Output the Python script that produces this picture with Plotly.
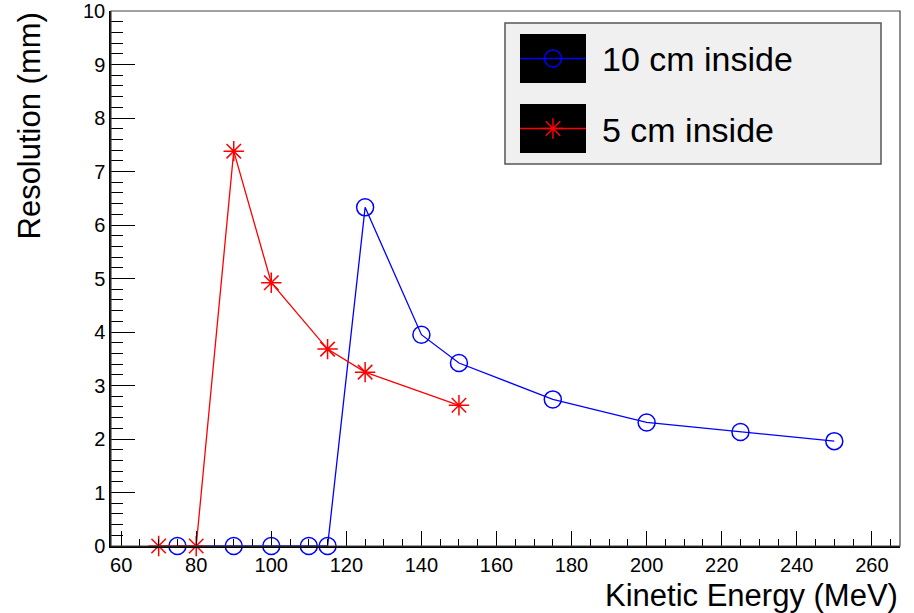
import plotly.graph_objects as go

# ---- data ----
energy_10cm = [75, 90, 100, 110, 115, 125, 140, 150, 175, 200, 225, 250]
res_10cm = [0, 0, 0, 0, 0, 6.33, 3.95, 3.42, 2.74, 2.31, 2.13, 1.96]
energy_5cm = [70, 80, 90, 100, 115, 125, 150]
res_5cm = [0, 0, 7.38, 4.92, 3.68, 3.25, 2.63]
series_names = ["10 cm inside", "5 cm inside"]
x_title = "Kinetic Energy (MeV)"
y_title = "Resolution (mm)"

W, H = 914, 613
L, R, T, B = 111, 14, 11, 67
PW, PH = W - L - R, H - T - B
FONT = "Liberation Sans, Arial, Helvetica, sans-serif"

def px(xp):
    return (xp - L) / PW

def py(yp):
    return (H - B - yp) / PH

BLUE = "#0000ff"
RED = "#ff0000"

fig = go.Figure()
fig.add_trace(go.Scatter(
    x=energy_10cm, y=res_10cm, mode="lines+markers", name=series_names[0],
    line=dict(color=BLUE, width=1.3),
    marker=dict(symbol="circle-open", size=17, color=BLUE, line=dict(width=1.5, color=BLUE)),
    showlegend=False, cliponaxis=False))
fig.add_trace(go.Scatter(
    x=energy_5cm, y=res_5cm, mode="lines+markers", name=series_names[1],
    line=dict(color=RED, width=1.3),
    marker=dict(symbol="asterisk-open", size=17, color=RED, line=dict(width=1.5, color=RED)),
    showlegend=False, cliponaxis=False))

# ---- manual legend (ROOT style) ----
lx0, lx1, ly0, ly1 = 505, 881, 23, 164
shapes = [
    dict(type="rect", xref="paper", yref="paper", x0=px(lx0), x1=px(lx1), y0=py(ly1), y1=py(ly0),
         fillcolor="#f0f0f0", line=dict(color="#555555", width=1.5), layer="below"),
]
rows = [(34, 83), (104, 153)]
colors = [BLUE, RED]
symbols = ["circle-open", "asterisk-open"]
bx0, bx1 = 520, 586
for (r0, r1), c, s, name in zip(rows, colors, symbols, series_names):
    shapes.append(dict(type="rect", xref="paper", yref="paper", x0=px(bx0), x1=px(bx1),
                       y0=py(r1), y1=py(r0), fillcolor="black", line=dict(color="black", width=0),
                       layer="below"))
    ym = (r0 + r1) / 2
    shapes.append(dict(type="line", xref="paper", yref="paper", x0=px(bx0), x1=px(bx1),
                       y0=py(ym), y1=py(ym), line=dict(color=c, width=1.5), layer="below"))
    fig.add_trace(go.Scatter(
        x=[px((bx0 + bx1) / 2)], y=[py(ym)], xaxis="x2", yaxis="y2", mode="markers",
        marker=dict(symbol=s, size=17, color=c, line=dict(width=1.5, color=c)),
        showlegend=False, hoverinfo="skip", cliponaxis=False))

# frame
shapes.append(dict(type="rect", xref="paper", yref="paper", x0=0, x1=1, y0=0, y1=1,
                   line=dict(color="#444444", width=1.2), layer="above"))

annotations = []
for (r0, r1), name in zip(rows, series_names):
    annotations.append(dict(x=px(600), y=py((r0 + r1) / 2 + 1), xref="paper", yref="paper",
                            text=name, showarrow=False, xanchor="left", yanchor="middle",
                            font=dict(family=FONT, size=34, color="black")))
annotations.append(dict(x=1.0, y=py(595), xref="paper", yref="paper", text=x_title,
                        showarrow=False, xanchor="right", yanchor="middle",
                        font=dict(family=FONT, size=31, color="black")))
annotations.append(dict(x=px(29), y=1.0, xref="paper", yref="paper", text=y_title,
                        showarrow=False, xanchor="center", yanchor="top", textangle=-90,
                        font=dict(family=FONT, size=31, color="black")))

fig.update_layout(
    width=W, height=H, margin=dict(l=L, r=R, t=T, b=B, autoexpand=False),
    paper_bgcolor="white", plot_bgcolor="white",
    font=dict(family=FONT, size=20, color="black"),
    shapes=shapes, annotations=annotations, showlegend=False,
    xaxis=dict(range=[57.3, 267.5], tick0=60, dtick=20, ticks="inside", ticklen=15,
               tickwidth=1.2, tickcolor="black", showgrid=False, zeroline=False,
               showline=True, linecolor="black", linewidth=1.5, automargin=False,
               tickfont=dict(family=FONT, size=20, color="black"),
               minor=dict(dtick=5, tick0=60, ticks="inside", ticklen=7, tickwidth=1, tickcolor="black",
                          showgrid=False)),
    yaxis=dict(range=[0, 10], tick0=0, dtick=1, ticks="inside", ticklen=24,
               tickwidth=1.2, tickcolor="black", showgrid=False, zeroline=False,
               showline=True, linecolor="black", linewidth=1.5, automargin=False,
               tickfont=dict(family=FONT, size=20, color="black"),
               minor=dict(dtick=0.2, tick0=0, ticks="inside", ticklen=12, tickwidth=1, tickcolor="black",
                          showgrid=False)),
    xaxis2=dict(overlaying="x", range=[0, 1], visible=False, fixedrange=True),
    yaxis2=dict(overlaying="y", range=[0, 1], visible=False, fixedrange=True),
)

fig.write_html("out.html")
